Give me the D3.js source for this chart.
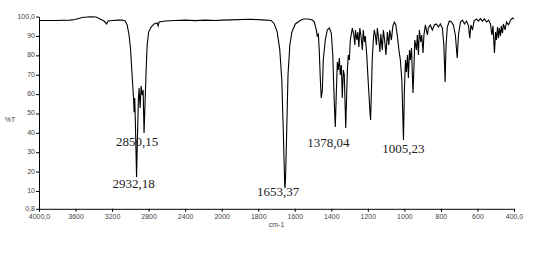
<!DOCTYPE html>
<html>
<head>
<meta charset="utf-8">
<script src="https://cdn.jsdelivr.net/npm/d3@7"></script>
<style>
body { margin: 0; background: #fff; }
svg { display: block; }
</style>
</head>
<body>
<div id="chart"></div>
<script>
// spectrum: wavenumber (cm-1) and %T
const wavenumber = [
  4000, 3825, 3660, 3605, 3529, 3441, 3375, 3331, 3288, 3260, 3244, 3200, 3134, 3090,
  3057, 3035, 3014, 2997, 2981, 2964, 2959, 2952, 2945, 2932, 2923, 2912, 2904, 2893,
  2882, 2871, 2860, 2850, 2838, 2827, 2816, 2800, 2773, 2740, 2707, 2696, 2685, 2619,
  2510, 2400, 2290, 2180, 2071, 2000, 1953, 1844, 1778, 1729, 1712, 1696, 1682, 1671,
  1663, 1655, 1653, 1650, 1644, 1637, 1627, 1616, 1597, 1570, 1553, 1526, 1504, 1493,
  1482, 1477, 1471, 1466, 1460, 1455, 1449, 1444, 1433, 1422, 1411, 1400, 1392, 1386,
  1381, 1378, 1373, 1367, 1362, 1356, 1351, 1345, 1340, 1334, 1329, 1321, 1312, 1307,
  1301, 1296, 1285, 1277, 1271, 1268, 1260, 1255, 1249, 1244, 1236, 1230, 1225, 1219,
  1214, 1206, 1197, 1189, 1185, 1181, 1176, 1170, 1165, 1159, 1153, 1148, 1140, 1134,
  1129, 1121, 1115, 1107, 1101, 1093, 1085, 1080, 1071, 1063, 1055, 1047, 1039, 1030,
  1022, 1014, 1005, 1000, 994, 989, 983, 978, 972, 967, 961, 953, 948, 943,
  934, 929, 923, 918, 910, 905, 898, 893, 885, 874, 869, 858, 847, 836,
  825, 814, 803, 792, 784, 777, 772, 765, 754, 743, 732, 721, 711, 704,
  693, 682, 671, 660, 649, 642, 636, 627, 619, 606, 595, 584, 573, 562,
  550, 539, 529, 521, 515, 507, 501, 496, 490, 485, 480, 474, 469, 463,
  458, 449, 441, 430, 419, 408, 400
];
const transmittance = [
  98.0, 98.0, 98.2, 98.5, 99.5, 99.9, 99.8, 98.8, 97.7, 96.2, 97.7, 98.0, 98.2, 98.2,
  97.7, 95.7, 90.5, 82.8, 69.9, 56.9, 50.7, 58.0, 45.6, 17.2, 36.3, 56.9, 63.1, 52.8,
  64.2, 59.5, 62.1, 39.9, 56.9, 72.4, 85.3, 92.0, 94.6, 96.2, 96.7, 95.2, 97.2, 97.7,
  98.0, 98.2, 97.9, 98.2, 98.0, 98.2, 98.3, 98.6, 98.3, 98.0, 96.2, 92.0, 82.8, 67.3,
  41.5, 12.8, 11.5, 18.3, 41.5, 69.9, 85.3, 92.0, 96.2, 98.0, 98.8, 98.8, 98.2, 97.2,
  93.1, 90.0, 91.0, 82.8, 67.3, 58.0, 62.1, 77.6, 87.9, 93.1, 94.1, 91.5, 80.2, 62.1,
  49.2, 43.0, 59.5, 76.6, 72.4, 78.6, 69.9, 75.0, 58.0, 72.4, 69.9, 42.5, 72.4, 80.2,
  77.6, 87.9, 94.1, 90.5, 85.3, 93.1, 87.9, 92.0, 84.3, 94.1, 88.9, 82.8, 93.1, 86.9,
  90.0, 80.2, 64.7, 51.8, 46.6, 59.5, 77.6, 87.9, 93.1, 90.5, 85.3, 94.1, 87.9, 81.7,
  91.0, 82.8, 93.1, 86.9, 80.2, 92.0, 85.3, 93.1, 87.9, 95.2, 97.2, 95.7, 90.5, 82.8,
  77.6, 67.3, 36.3, 62.1, 77.6, 71.4, 80.2, 68.3, 82.8, 77.6, 83.8, 60.6, 72.4, 87.9,
  82.8, 90.5, 80.2, 93.1, 86.9, 90.5, 81.2, 90.5, 95.7, 90.5, 94.1, 95.7, 93.1, 95.7,
  96.2, 94.6, 96.2, 94.1, 85.3, 66.2, 85.3, 94.6, 97.7, 97.2, 95.7, 90.5, 78.6, 90.5,
  97.2, 98.2, 96.2, 97.7, 95.2, 88.9, 95.7, 93.1, 97.7, 98.8, 97.7, 99.0, 97.7, 98.8,
  97.2, 98.2, 96.2, 90.5, 95.2, 81.2, 92.0, 87.9, 94.6, 88.9, 94.1, 90.0, 95.2, 91.5,
  96.2, 93.1, 97.2, 95.7, 98.2, 99.3, 98.8
];

const xTicks = [4000, 3600, 3200, 2800, 2400, 2000, 1800, 1600, 1400, 1200, 1000, 800, 600, 400];
const xTickLabels = ["4000,0", "3600", "3200", "2800", "2400", "2000", "1800", "1600", "1400", "1200", "1000", "800", "600", "400,0"];
const yTicks = [100, 90, 80, 70, 60, 50, 40, 30, 20, 10, 0.8];
const yTickLabels = ["100,0", "90", "80", "70", "60", "50", "40", "30", "20", "10", "0,8"];

const peakWn = [2932, 2850, 1653, 1378, 1005];
const peakText = ["2932,18", "2850,15", "1653,37", "1378,04", "1005,23"];

const width = 553, height = 261;
const plotLeft = 39, plotRight = 514, plotTop = 16.6, plotBottom = 208.8;

const svg = d3.select("#chart")
    .append("svg")
    .attr("width", width)
    .attr("height", height);

svg.append("rect").attr("width", width).attr("height", height).attr("fill", "#fff");

// the x axis changes scale at 2000 cm-1 (400 per step above, 200 per step below)
const x = d3.scaleLinear()
    .domain([4000, 2000, 400])
    .range([plotLeft, plotLeft + (plotRight - plotLeft) * 5 / 13, plotRight]);

const y = d3.scaleLinear()
    .domain([0.8, 100])
    .range([plotBottom, plotTop]);

const xAxis = d3.axisBottom(x)
    .tickValues(xTicks)
    .tickSize(3)
    .tickSizeOuter(0)
    .tickFormat((d, i) => xTickLabels[i]);

const yAxis = d3.axisLeft(y)
    .tickValues(yTicks)
    .tickSize(3)
    .tickSizeOuter(0)
    .tickFormat((d, i) => yTickLabels[i]);

const gx = svg.append("g")
    .attr("transform", `translate(0,${plotBottom})`)
    .call(xAxis);

const gy = svg.append("g")
    .attr("transform", `translate(${plotLeft},0)`)
    .call(yAxis);

[gx, gy].forEach(g => {
    g.selectAll("path, line").attr("stroke", "#000").attr("stroke-width", 1);
    g.selectAll("text")
        .attr("fill", "#444")
        .style("font-family", "'Liberation Sans', Arial, sans-serif")
        .style("font-size", "7px");
});
gx.selectAll("text").attr("y", 5);
gy.selectAll("text").attr("x", -4).attr("dy", "0.2em");

svg.append("text")
    .attr("x", (plotLeft + plotRight) / 2)
    .attr("y", 227)
    .attr("text-anchor", "middle")
    .attr("fill", "#444")
    .style("font-family", "'Liberation Sans', Arial, sans-serif")
    .style("font-size", "7px")
    .text("cm-1");

svg.append("text")
    .attr("x", 10)
    .attr("y", 122)
    .attr("text-anchor", "middle")
    .attr("fill", "#444")
    .style("font-family", "'Liberation Sans', Arial, sans-serif")
    .style("font-size", "7px")
    .text("%T");

// spectrum
const line = d3.line()
    .x(i => x(wavenumber[i]))
    .y(i => y(transmittance[i]));

svg.append("path")
    .datum(d3.range(wavenumber.length))
    .attr("d", line)
    .attr("fill", "none")
    .attr("stroke", "#000")
    .attr("stroke-width", 1.1);

// peak labels, placed under each band
const labelOffset = [[-3, 11], [-7, 12.5], [-7, 8], [-7, 20], [0, 13]];

peakWn.forEach((wn, i) => {
    const k = wavenumber.indexOf(wn);
    svg.append("text")
        .attr("x", x(wn) + labelOffset[i][0])
        .attr("y", y(transmittance[k]) + labelOffset[i][1])
        .attr("text-anchor", "middle")
        .attr("fill", "#222")
        .style("font-family", "'Liberation Serif', 'Times New Roman', serif")
        .style("font-size", "13px")
        .text(peakText[i]);
});
</script>
</body>
</html>
